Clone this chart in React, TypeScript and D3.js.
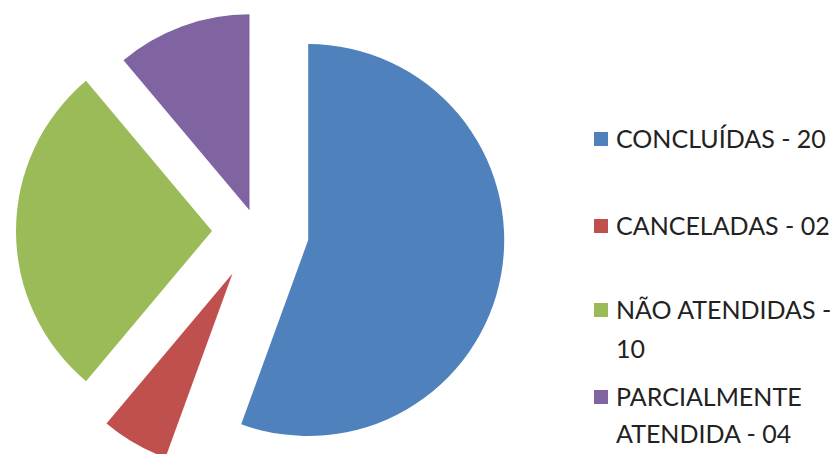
import React from "react";
import * as d3 from "d3";

const categories = ["CONCLUÍDAS", "CANCELADAS", "NÃO ATENDIDAS", "PARCIALMENTE ATENDIDA"];
const values = [20, 2, 10, 4];
const legendLabels = [["CONCLUÍDAS - 20"], ["CANCELADAS - 02"], ["NÃO ATENDIDAS -", "10"], ["PARCIALMENTE", "ATENDIDA - 04"]];

const colors = ["#4F81BD", "#C0504D", "#9BBB59", "#8064A2"];
const explode = [52, 49, 45, 22];

const W = 834;
const H = 454;
const CX = 257;
const CY = 231;
const R = 196;

const legendY = [[139], [226], [310, 349], [397, 434]];

export default function App() {
  const pie = d3
    .pie<number>()
    .sort(null)
    .startAngle(0)
    .endAngle(2 * Math.PI)
    .value((d) => d);
  const arcs = pie(values);
  const arc = d3.arc<d3.PieArcDatum<number>>().innerRadius(0).outerRadius(R);

  return (
    <svg
      width={W}
      height={H}
      style={{ position: "absolute", left: 0, top: 0, background: "#fff" }}
      fontFamily="Lato, 'Open Sans', sans-serif"
    >
      <g transform={`translate(${CX},${CY})`}>
        {arcs.map((a, i) => {
          const mid = (a.startAngle + a.endAngle) / 2;
          const dx = Math.sin(mid) * explode[i];
          const dy = -Math.cos(mid) * explode[i];
          return (
            <path
              key={categories[i]}
              d={arc(a) || ""}
              transform={`translate(${dx},${dy})`}
              fill={colors[i]}
            />
          );
        })}
      </g>
      <g>
        {legendLabels.map((lines, i) => (
          <g key={categories[i]}>
            <rect x={594} y={legendY[i][0] - 7} width={14} height={14} fill={colors[i]} />
            {lines.map((t, j) => (
              <text
                key={j}
                x={616}
                y={legendY[i][j]}
                dy="0.35em"
                fontSize={25}
                fill="#222"
              >
                {t}
              </text>
            ))}
          </g>
        ))}
      </g>
    </svg>
  );
}
